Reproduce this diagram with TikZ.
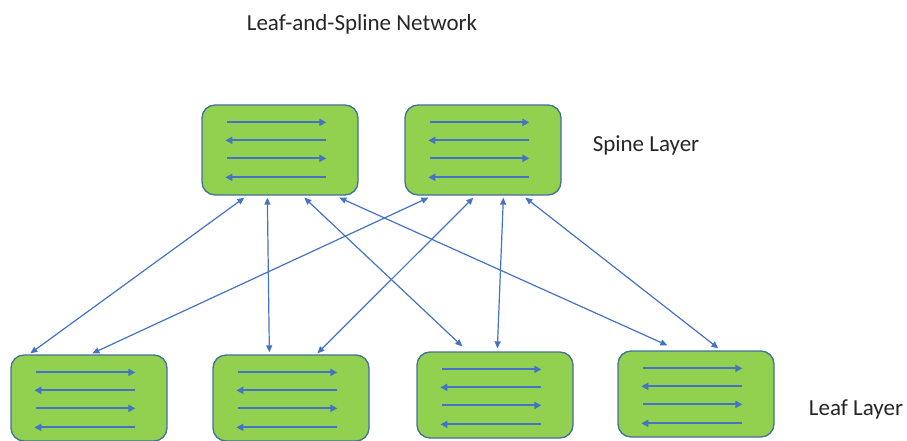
\documentclass[tikz,border=0pt]{standalone}
\usepackage{fontspec}
\setmainfont{Carlito}
\usetikzlibrary{arrows.meta,calc}
\definecolor{boxgreen}{HTML}{92D050}
\definecolor{boxedge}{HTML}{41719C}
\definecolor{arrowblue}{HTML}{4472C4}
\tikzset{
  switchbox/.style={draw=boxedge, line width=1.3pt, fill=boxgreen, rounded corners=13pt,
    minimum width=156pt, minimum height=90pt, inner sep=0pt},
  leafbox/.style={switchbox, minimum height=86pt},
  flow/.style={draw=arrowblue, line width=1.9pt, -{Triangle[length=7pt,width=7pt]}},
  link/.style={draw=arrowblue, line width=1.2pt, {Triangle[length=7pt,width=6pt]}-{Triangle[length=7pt,width=6pt]}},
  lbl/.style={font=\fontsize{23}{26}\selectfont, text=black!85, inner sep=0pt}
}
\newcommand{\flows}[1]{%
  \draw[flow] ($(#1.north west)+(26,18)$) -- ($(#1.north west)+(125,18)$);
  \draw[flow] ($(#1.north west)+(125,36)$) -- ($(#1.north west)+(24,36)$);
  \draw[flow] ($(#1.north west)+(26,54)$) -- ($(#1.north west)+(125,54)$);
  \draw[flow] ($(#1.north west)+(125,73)$) -- ($(#1.north west)+(24,73)$);
}
\begin{document}
\begin{tikzpicture}[x=1pt,y=-1pt]
\useasboundingbox (0,0) rectangle (907,441);
\node[lbl] (title) at (362,24) {Leaf-and-Spline Network};
\node[lbl] (spinelbl) at (646,145) {Spine Layer};
\node[lbl] (leaflbl) at (856,409) {Leaf Layer};

\node[switchbox] (s1) at (280,150) {};
\node[switchbox] (s2) at (483,150) {};
\node[leafbox] (l1) at (89,398) {};
\node[leafbox] (l2) at (291,398) {};
\node[leafbox] (l3) at (495,395) {};
\node[leafbox] (l4) at (696,394) {};

\flows{s1}\flows{s2}\flows{l1}\flows{l2}\flows{l3}\flows{l4}

\draw[link] ($(s1.south west)+(43,2)$) -- ($(l1.north west)+(20,-1)$);
\draw[link] ($(s1.south west)+(66,2)$) -- ($(l2.north west)+(57,-2)$);
\draw[link] ($(s1.south west)+(103,2)$) -- ($(l3.north west)+(46,-5)$);
\draw[link] ($(s1.south west)+(138,2)$) -- ($(l4.north west)+(50,-5)$);
\draw[link] ($(s2.south west)+(24,2)$) -- ($(l1.north west)+(82,-1)$);
\draw[link] ($(s2.south west)+(69,2)$) -- ($(l2.north west)+(105,-1)$);
\draw[link] ($(s2.south west)+(99,2)$) -- ($(l3.north west)+(81,-3)$);
\draw[link] ($(s2.south west)+(121,2)$) -- ($(l4.north west)+(101,-2)$);
\end{tikzpicture}
\end{document}
